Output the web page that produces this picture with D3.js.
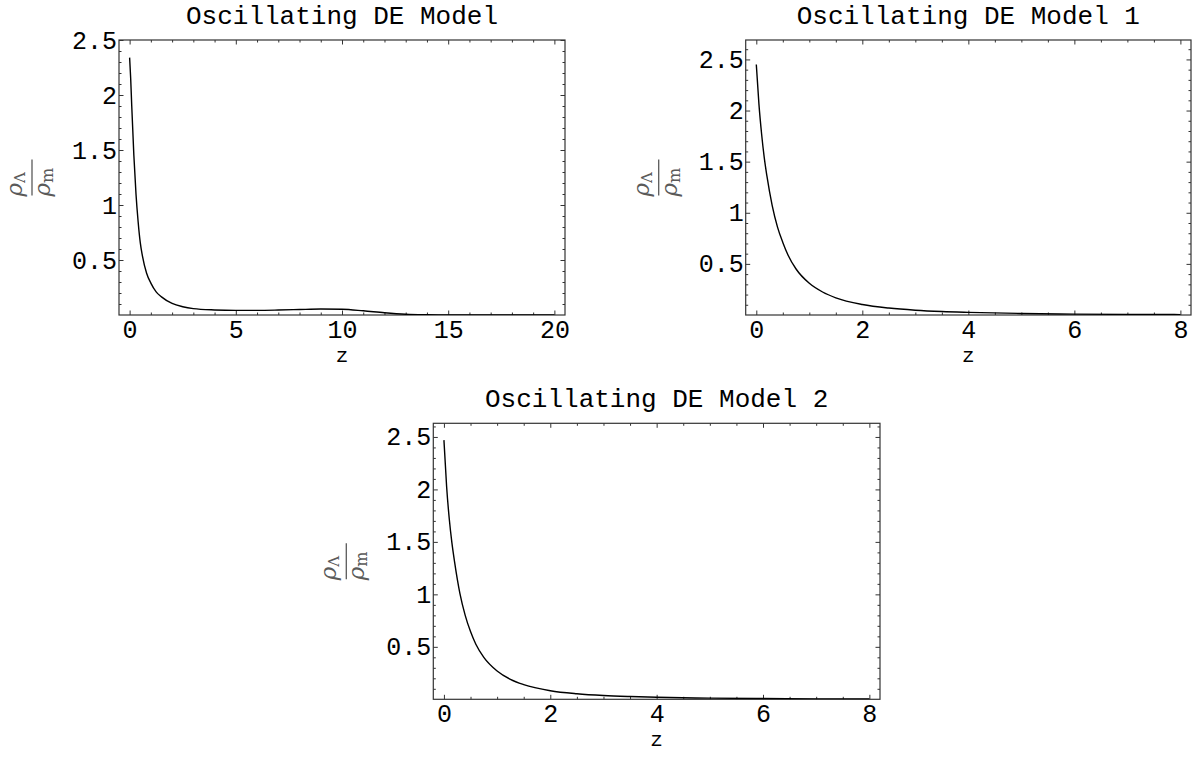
<!DOCTYPE html>
<html lang="en">
<head>
<meta charset="UTF-8">
<title>Oscillating DE Models</title>
<style>
  body { margin: 0; padding: 0; background: #fff; }
  svg text { font-family: "Liberation Mono", "DejaVu Sans Mono", monospace; fill: #000; }
  .axis .domain { display: none; }
  .axis line { stroke: #333; stroke-width: 1; }
  .frame { fill: none; stroke: #333; stroke-width: 1.2; }
  .curve { fill: none; stroke: #000; stroke-width: 1.4; }
  .ylab text { font-family: "DejaVu Serif", "Liberation Serif", serif; fill: #5a5a5a; }
</style>
</head>
<body>
<script src="https://d3js.org/d3.v7.min.js"></script>
<script>
// titres des trois panneaux
const titles = ["Oscillating DE Model", "Oscillating DE Model 1", "Oscillating DE Model 2"];

// valeurs : z et rho_Lambda / rho_m
const z0 = [0, 0.05, 0.1, 0.2, 0.3, 0.4, 0.5, 0.6, 0.8, 1.0, 1.25, 1.5, 2.0, 2.5, 3, 4, 5, 6, 7, 8, 9, 10, 11, 12, 13, 14, 15, 16, 18, 20];
const ratio0 = [2.34, 2.15, 1.9, 1.45, 1.1, 0.85, 0.66, 0.54, 0.38, 0.29, 0.21, 0.165, 0.105, 0.075, 0.058, 0.046, 0.042, 0.042, 0.045, 0.05, 0.054, 0.052, 0.038, 0.02, 0.007, 0.002, 0, 0, 0, 0];

const z1 = [0, 0.05, 0.1, 0.15, 0.2, 0.3, 0.4, 0.5, 0.6, 0.75, 1.0, 1.25, 1.5, 2.0, 2.5, 3, 3.5, 4, 5, 6, 7, 8];
const ratio1 = [2.45, 2.06, 1.77, 1.54, 1.36, 1.07, 0.86, 0.71, 0.585, 0.45, 0.31, 0.225, 0.168, 0.103, 0.068, 0.047, 0.034, 0.026, 0.015, 0.009, 0.006, 0.004];

const z2 = [0, 0.05, 0.1, 0.15, 0.2, 0.3, 0.4, 0.5, 0.6, 0.75, 1.0, 1.25, 1.5, 2.0, 2.5, 3, 3.5, 4, 5, 6, 7, 8];
const ratio2 = [2.47, 2.03, 1.72, 1.49, 1.31, 1.01, 0.8, 0.645, 0.525, 0.4, 0.27, 0.19, 0.14, 0.082, 0.053, 0.036, 0.026, 0.019, 0.011, 0.007, 0.0045, 0.003];

// graduations
const xTicks0 = [0, 5, 10, 15, 20];
const xTicks12 = [0, 2, 4, 6, 8];
const yTicks = [0.5, 1, 1.5, 2, 2.5];

const W = 1195, H = 758;
const svg = d3.select("body").append("svg")
    .attr("width", W)
    .attr("height", H);

// cadre de chaque panneau (pixels) et domaines
const panels = [
    { left: 119, right: 565, top: 40, bottom: 315, xd: [-0.5, 20.5], yd: [0, 2.5], z: z0, r: ratio0, xt: xTicks0, xm: 1 },
    { left: 745.7, right: 1191, top: 40, bottom: 315, xd: [-0.2, 8.2], yd: [0, 2.69], z: z1, r: ratio1, xt: xTicks12, xm: 0.5 },
    { left: 433.3, right: 880, top: 423.3, bottom: 699.3, xd: [-0.2, 8.2], yd: [0, 2.63], z: z2, r: ratio2, xt: xTicks12, xm: 0.5 }
];

panels.forEach((p, i) => {
    const g = svg.append("g");
    const w = p.right - p.left, h = p.bottom - p.top;

    const x = d3.scaleLinear().domain(p.xd).range([p.left, p.right]);
    const y = d3.scaleLinear().domain(p.yd).range([p.bottom, p.top]);

    const xMinor = d3.range(Math.ceil(p.xd[0] / p.xm) * p.xm, p.xd[1], p.xm)
        .filter(v => !p.xt.some(t => Math.abs(t - v) < 1e-6));
    const yMinor = d3.range(0.1, p.yd[1], 0.1)
        .filter(v => !yTicks.some(t => Math.abs(t - v) < 1e-6));

    // graduations mineures (4 cotes, vers l'interieur)
    g.append("g").attr("class", "axis").attr("transform", `translate(0,${p.bottom})`)
        .call(d3.axisBottom(x).tickValues(xMinor).tickSize(-2.5).tickFormat(""));
    g.append("g").attr("class", "axis").attr("transform", `translate(0,${p.top})`)
        .call(d3.axisTop(x).tickValues(xMinor).tickSize(-2.5).tickFormat(""));
    g.append("g").attr("class", "axis").attr("transform", `translate(${p.left},0)`)
        .call(d3.axisLeft(y).tickValues(yMinor).tickSize(-2.5).tickFormat(""));
    g.append("g").attr("class", "axis").attr("transform", `translate(${p.right},0)`)
        .call(d3.axisRight(y).tickValues(yMinor).tickSize(-2.5).tickFormat(""));

    // graduations majeures
    const xb = g.append("g").attr("class", "axis").attr("transform", `translate(0,${p.bottom})`)
        .call(d3.axisBottom(x).tickValues(p.xt).tickSize(-4.5).tickPadding(8).tickFormat(d => String(d)));
    xb.selectAll("text").attr("font-size", 25).attr("dy", 0).attr("y", 22.5);

    g.append("g").attr("class", "axis").attr("transform", `translate(0,${p.top})`)
        .call(d3.axisTop(x).tickValues(p.xt).tickSize(-4.5).tickFormat(""));

    const yl = g.append("g").attr("class", "axis").attr("transform", `translate(${p.left},0)`)
        .call(d3.axisLeft(y).tickValues(yTicks).tickSize(-4.5).tickFormat(d => String(d)));
    yl.selectAll("text").attr("font-size", 25).attr("dy", 0).attr("y", 8).attr("x", -2);

    g.append("g").attr("class", "axis").attr("transform", `translate(${p.right},0)`)
        .call(d3.axisRight(y).tickValues(yTicks).tickSize(-4.5).tickFormat(""));

    // cadre
    g.append("rect").attr("class", "frame")
        .attr("x", p.left).attr("y", p.top).attr("width", w).attr("height", h);

    // courbe
    g.append("clipPath").attr("id", "clip" + i)
        .append("rect").attr("x", p.left).attr("y", p.top).attr("width", w).attr("height", h);

    const line = d3.line()
        .x((d, k) => x(p.z[k]))
        .y(d => y(d))
        .curve(d3.curveMonotoneX);

    g.append("path").attr("class", "curve")
        .attr("clip-path", `url(#clip${i})`)
        .attr("d", line(p.r));

    // titre
    g.append("text")
        .attr("x", (p.left + p.right) / 2)
        .attr("y", p.top - 16)
        .attr("text-anchor", "middle")
        .attr("font-size", 26)
        .text(titles[i]);

    // titre axe x
    g.append("text")
        .attr("x", (p.left + p.right) / 2)
        .attr("y", p.bottom + 47)
        .attr("text-anchor", "middle")
        .attr("font-size", 21)
        .text("z");

    // titre axe y : fraction rho_Lambda / rho_m
    const yg = g.append("g").attr("class", "ylab")
        .attr("transform", `translate(${p.left - 87},${(p.top + p.bottom) / 2}) rotate(-90)`);
    yg.append("line").attr("x1", -18).attr("x2", 18).attr("y1", 0).attr("y2", 0)
        .attr("stroke", "#5a5a5a").attr("stroke-width", 1.3);
    const num = yg.append("text").attr("x", -19).attr("y", -10).attr("font-size", 23).attr("font-style", "italic");
    num.append("tspan").text("ρ");
    num.append("tspan").attr("dy", 3).attr("font-size", 15).attr("font-style", "normal").text("Λ");
    const den = yg.append("text").attr("x", -19).attr("y", 18).attr("font-size", 23).attr("font-style", "italic");
    den.append("tspan").text("ρ");
    den.append("tspan").attr("dy", 3).attr("font-size", 16).attr("font-style", "normal").text("m");
});
</script>
</body>
</html>
